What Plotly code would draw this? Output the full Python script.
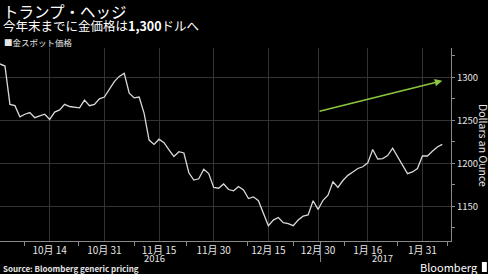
import pandas as pd
import plotly.graph_objects as go

# ---- data ----
series_name = "金スポット価格"
holidays = ["2016-12-26", "2017-01-02"]
dates = [d for d in pd.bdate_range("2016-09-30", "2017-02-06") if d.strftime("%Y-%m-%d") not in holidays]
gold = [
    1315.5, 1313, 1268.5, 1267, 1254, 1257, 1259, 1253, 1255, 1257,
    1251, 1259.5, 1262, 1268.5, 1266, 1265.5, 1264.5, 1273.5, 1267, 1268.5,
    1275, 1277, 1286, 1295, 1301, 1304.5, 1281.5, 1276, 1277, 1258,
    1227, 1222, 1228, 1224, 1215.5, 1208, 1213.5, 1212, 1189, 1180.5,
    1182, 1193, 1188, 1172, 1171, 1176, 1169.5, 1168, 1173, 1169,
    1159, 1161, 1156.5, 1142, 1127.5, 1134, 1137, 1131, 1130, 1127.5,
    1134, 1138.5, 1140, 1156.5, 1146.5, 1157, 1163, 1178.5, 1172, 1180,
    1186, 1190, 1194, 1196, 1200.5, 1216, 1205, 1205.5, 1209, 1217.5,
    1208, 1199, 1188, 1190, 1194, 1208.5, 1208.5, 1214, 1219, 1222,
]
tick_dates = ["2016-10-14", "2016-10-31", "2016-11-15", "2016-11-30",
              "2016-12-15", "2016-12-30", "2017-01-16", "2017-01-31"]
tick_labels = [f"{pd.Timestamp(d).month}月 {pd.Timestamp(d).day}" for d in tick_dates]
minor_ticks = ["2016-10-07", "2016-10-21 17:00", "2016-11-08", "2016-11-22 14:00",
               "2016-12-08 17:00", "2016-12-22", "2017-01-09 10:00", "2017-01-24", "2017-02-07"]
y_ticks = [1150, 1200, 1250, 1300]
x_range = ["2016-09-30", "2017-02-07 18:00"]
y_range = [1109.7, 1334]
years = ["2016", "2017"]
year_pos = ["2016-11-14", "2017-01-19"]
year_split = "2016-12-30 12:00"
arrow_x = ["2016-12-30", "2017-02-06"]
arrow_y = [1260, 1296]

FONT = "Noto Sans CJK JP, Liberation Sans, sans-serif"
TXT = "#e6e6e6"
GRID = "#333333"

fig = go.Figure()
fig.add_trace(go.Scatter(x=dates, y=gold, mode="lines", name=series_name,
                         line=dict(color="#d8d8d8", width=1.3), showlegend=False))

fig.update_layout(
    width=488, height=274,
    margin=dict(l=0, r=37, t=48, b=33),
    paper_bgcolor="#000000", plot_bgcolor="#000000",
    font=dict(family=FONT, color=TXT, size=10),
    xaxis=dict(
        type="date", range=x_range,
        rangebreaks=[dict(bounds=["sat", "mon"]), dict(values=holidays)],
        tickmode="array", tickvals=tick_dates, ticktext=tick_labels,
        showgrid=True, gridcolor=GRID, gridwidth=1,
        showline=True, linecolor="#8a8a8a", linewidth=1,
        ticks="", tickfont=dict(size=10, color=TXT),
        minor=dict(tickmode="array", tickvals=minor_ticks, ticks="outside",
                   ticklen=4, tickcolor="#8a8a8a", showgrid=False),
        zeroline=False,
    ),
    yaxis=dict(
        side="right", range=y_range,
        tickmode="array", tickvals=y_ticks,
        showgrid=True, gridcolor=GRID, gridwidth=1,
        showline=True, linecolor="#8a8a8a", linewidth=1,
        ticks="outside", ticklen=3, tickcolor="#8a8a8a",
        minor=dict(dtick=25, tick0=1100, ticks="outside", ticklen=3,
                   tickcolor="#8a8a8a", showgrid=False),
        tickfont=dict(size=9.5, color=TXT), zeroline=False,
    ),
)

ph = 193.0
def py(px):
    return (241 - px) / ph

anns = [
    dict(text="トランプ・ヘッジ", x=0, y=py(11), xshift=1, font=dict(size=15.5, color="#ffffff")),
    dict(text="今年末までに金価格は<b>1,300</b>ドルへ", x=0, y=py(25.5), xshift=1, font=dict(size=12.5, color="#ffffff")),
    dict(text="■" + series_name, x=0, y=py(42), xshift=2, font=dict(size=8.5, color=TXT)),
    dict(text="<b>Source: Bloomberg generic pricing</b>", x=0, y=py(268), xshift=1, font=dict(size=8, color=TXT)),
]
for a in anns:
    fig.add_annotation(xref="paper", yref="paper", xanchor="left", yanchor="middle",
                       showarrow=False, **a)
fig.add_annotation(text="Bloomberg", xref="paper", yref="paper", x=1.064, y=py(267),
                   xanchor="right", yanchor="middle", showarrow=False,
                   font=dict(size=11, color="#ffffff"))
fig.add_shape(type="rect", xref="paper", yref="paper", x0=1.0685, x1=1.0795,
              y0=py(272), y1=py(262), fillcolor="#ffffff", line=dict(width=0))
fig.add_annotation(text="Dollars an Ounce", xref="paper", yref="paper", x=481 / 451, y=py(146),
                   xanchor="center", yanchor="middle", textangle=90, showarrow=False,
                   xshift=3, font=dict(size=10.5, color=TXT))
for yr, xp in zip(years, year_pos):
    fig.add_annotation(text=yr, xref="x", yref="paper", x=xp, y=py(257.5),
                       xanchor="center", yanchor="middle", showarrow=False,
                       font=dict(size=9.5, color=TXT))
fig.add_shape(type="line", xref="x", yref="paper", x0=year_split, x1=year_split,
              y0=py(242), y1=py(262), line=dict(color="#8a8a8a", width=1))
fig.add_annotation(x=arrow_x[1], y=arrow_y[1], ax=arrow_x[0], ay=arrow_y[0],
                   xref="x", yref="y", axref="x", ayref="y", text="",
                   showarrow=True, arrowhead=2, arrowsize=1, arrowwidth=1.5,
                   arrowcolor="#8dc63f")

fig.write_html("out.html")
